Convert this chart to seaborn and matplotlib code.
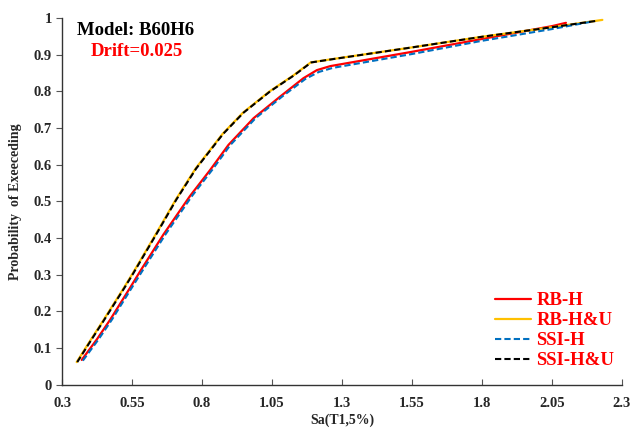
import pandas as pd
import matplotlib
matplotlib.use("Agg")
import matplotlib.pyplot as plt
import seaborn as sns

# Curve data
rb_h_x = [0.370, 0.425, 0.472, 0.543, 0.579, 0.662, 0.757, 0.829, 0.894, 0.984, 1.079, 1.162, 1.21, 1.258, 1.55, 1.80, 2.05, 2.10]
rb_h_y = [0.068, 0.125, 0.178, 0.265, 0.31, 0.41, 0.515, 0.586, 0.654, 0.727, 0.786, 0.836, 0.858, 0.869, 0.908, 0.943, 0.978, 0.987]

rb_hu_x = [0.352, 0.400, 0.444, 0.521, 0.553, 0.634, 0.706, 0.777, 0.873, 0.946, 1.041, 1.125, 1.188, 1.256, 1.55, 1.80, 2.05, 2.23]
rb_hu_y = [0.062, 0.12, 0.172, 0.265, 0.305, 0.41, 0.505, 0.59, 0.684, 0.742, 0.80, 0.843, 0.879, 0.887, 0.92, 0.949, 0.975, 0.995]

ssi_h_x = [0.374, 0.431, 0.478, 0.549, 0.586, 0.669, 0.764, 0.836, 0.901, 0.991, 1.086, 1.169, 1.217, 1.266, 1.55, 1.80, 2.05, 2.19]
ssi_h_y = [0.066, 0.125, 0.178, 0.265, 0.31, 0.41, 0.515, 0.586, 0.654, 0.727, 0.786, 0.834, 0.853, 0.864, 0.902, 0.938, 0.97, 0.99]

ssi_hu_x = [0.354, 0.402, 0.446, 0.523, 0.555, 0.636, 0.708, 0.779, 0.875, 0.948, 1.043, 1.127, 1.19, 1.258, 1.55, 1.80, 2.05, 2.215]
ssi_hu_y = [0.062, 0.12, 0.172, 0.265, 0.305, 0.41, 0.505, 0.59, 0.684, 0.742, 0.80, 0.843, 0.879, 0.887, 0.92, 0.949, 0.975, 0.993]

x_ticks = [0.3, 0.55, 0.8, 1.05, 1.3, 1.55, 1.8, 2.05, 2.3]
x_labels = ["0.3", "0.55", "0.8", "1.05", "1.3", "1.55", "1.8", "2.05", "2.3"]
y_ticks = [0, 0.1, 0.2, 0.3, 0.4, 0.5, 0.6, 0.7, 0.8, 0.9, 1.0]
y_labels = ["0", "0.1", "0.2", "0.3", "0.4", "0.5", "0.6", "0.7", "0.8", "0.9", "1"]

sns.set_style("ticks")
plt.rcParams["font.family"] = ["Liberation Serif", "DejaVu Serif"]
plt.rcParams["font.weight"] = "bold"

fig = plt.figure(figsize=(6.34, 4.30), dpi=100)
ax = fig.add_axes([0.098, 0.105, 0.883, 0.853])

sns.lineplot(x=rb_h_x, y=rb_h_y, sort=False, color="#FF0000", lw=1.6, label="RB-H", ax=ax)
sns.lineplot(x=rb_hu_x, y=rb_hu_y, sort=False, color="#FFC000", lw=1.6, label="RB-H&U", ax=ax)
sns.lineplot(x=ssi_h_x, y=ssi_h_y, sort=False, color="#0070C0", lw=1.5, ls=(0, (3, 1.5)), label="SSI-H", ax=ax)
sns.lineplot(x=ssi_hu_x, y=ssi_hu_y, sort=False, color="black", lw=1.5, ls=(0, (3, 1.5)), label="SSI-H&U", ax=ax)

ax.set_xlim(0.3, 2.3)
ax.set_ylim(0, 1)
ax.set_xticks(x_ticks)
ax.set_xticklabels(x_labels, fontsize=10.5, fontweight="bold")
ax.set_yticks(y_ticks)
ax.set_yticklabels(y_labels, fontsize=10.5, fontweight="bold")
ax.tick_params(axis="x", direction="in", length=4, pad=9, color="#555555")
ax.tick_params(axis="y", direction="out", length=4, color="#555555")
sns.despine(ax=ax)
for s in ["left", "bottom"]:
    ax.spines[s].set_color("#333333")
    ax.spines[s].set_linewidth(1.0)

ax.set_xlabel("Sa(T1,5%)", fontsize=10, fontweight="bold", labelpad=2)
ax.set_ylabel("Probability  of Exeeceding", fontsize=10, fontweight="bold", labelpad=8)

ax.text(0.132, 0.965, "Model: B60H6", transform=ax.transAxes, ha="center", va="center",
        fontsize=13.5, fontweight="bold", color="black")
ax.text(0.133, 0.91, "Drift=0.025", transform=ax.transAxes, ha="center", va="center",
        fontsize=13.5, fontweight="bold", color="#FF0000")

leg = ax.legend(loc="lower right", frameon=False, fontsize=13.5, handlelength=1.9,
                handletextpad=0.3, labelspacing=0.15, borderaxespad=0.0,
                bbox_to_anchor=(1.0, 0.022))
for t in leg.get_texts():
    t.set_color("#FF0000")
    t.set_fontweight("bold")

fig.savefig("out.png", dpi=100)
